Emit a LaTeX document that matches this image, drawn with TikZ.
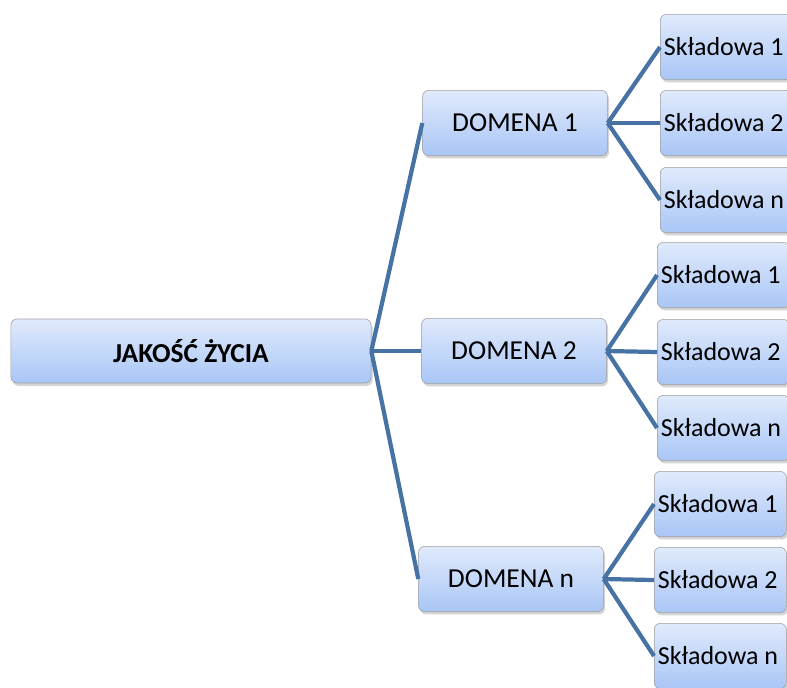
\documentclass[tikz,border=0pt]{standalone}
\usepackage{fontspec}
\setmainfont{Carlito}
\usetikzlibrary{shadows}

\definecolor{boxtop}{RGB}{224,234,252}
\definecolor{boxbottom}{RGB}{169,198,246}
\definecolor{linkblue}{RGB}{70,114,164}

\begin{document}
\begin{tikzpicture}[x=0.025cm, y=-0.025cm,
    box/.style={draw=gray!75, thin, rounded corners=0.15cm,
      top color=boxtop, bottom color=boxbottom,
      drop shadow={shadow xshift=0.04cm, shadow yshift=-0.07cm, opacity=0.35},
      font=\fontsize{19.5}{23}\selectfont, inner sep=0pt},
    rootbox/.style={box, minimum width=9cm, minimum height=1.6cm, font=\fontsize{19.5}{23}\selectfont\bfseries},
    dombox/.style={box, minimum width=4.62cm, minimum height=1.63cm},
    partbox/.style={box, minimum width=3.3cm, minimum height=1.63cm,
      text width=3.12cm, inner xsep=0.09cm, align=flush left,
      font=\fontsize{18.5}{22}\selectfont},
    link/.style={draw=linkblue, line width=3pt}]

  % Canvas.
  \useasboundingbox (0,0) rectangle (787,687);
  \clip (0,0) rectangle (787,687);

  % Root.
  \node[rootbox] (root) at (191,351) {JAKOŚĆ ŻYCIA};

  % Domains.
  \node[dombox] (dom1) at (515,123) {DOMENA 1};
  \node[dombox] (dom2) at (514,351) {DOMENA 2};
  \node[dombox] (domn) at (511,579) {DOMENA n};

  % Components of domain 1.
  \node[partbox, anchor=west] (s11) at (660,47) {Składowa 1};
  \node[partbox, anchor=west] (s12) at (660,123) {Składowa 2};
  \node[partbox, anchor=west] (s1n) at (660,200) {Składowa n};

  % Components of domain 2.
  \node[partbox, anchor=west] (s21) at (657,275) {Składowa 1};
  \node[partbox, anchor=west] (s22) at (657,352) {Składowa 2};
  \node[partbox, anchor=west] (s2n) at (657,428) {Składowa n};

  % Components of domain n.
  \node[partbox, anchor=west] (sn1) at (654,504) {Składowa 1};
  \node[partbox, anchor=west] (sn2) at (654,580) {Składowa 2};
  \node[partbox, anchor=west] (snn) at (654,656) {Składowa n};

  % Links.
  \draw[link] (root.east) -- (dom1.west);
  \draw[link] (root.east) -- (dom2.west);
  \draw[link] (root.east) -- (domn.west);

  \draw[link] (dom1.east) -- (s11.west);
  \draw[link] (dom1.east) -- (s12.west);
  \draw[link] (dom1.east) -- (s1n.west);

  \draw[link] (dom2.east) -- (s21.west);
  \draw[link] (dom2.east) -- (s22.west);
  \draw[link] (dom2.east) -- (s2n.west);

  \draw[link] (domn.east) -- (sn1.west);
  \draw[link] (domn.east) -- (sn2.west);
  \draw[link] (domn.east) -- (snn.west);

\end{tikzpicture}
\end{document}
